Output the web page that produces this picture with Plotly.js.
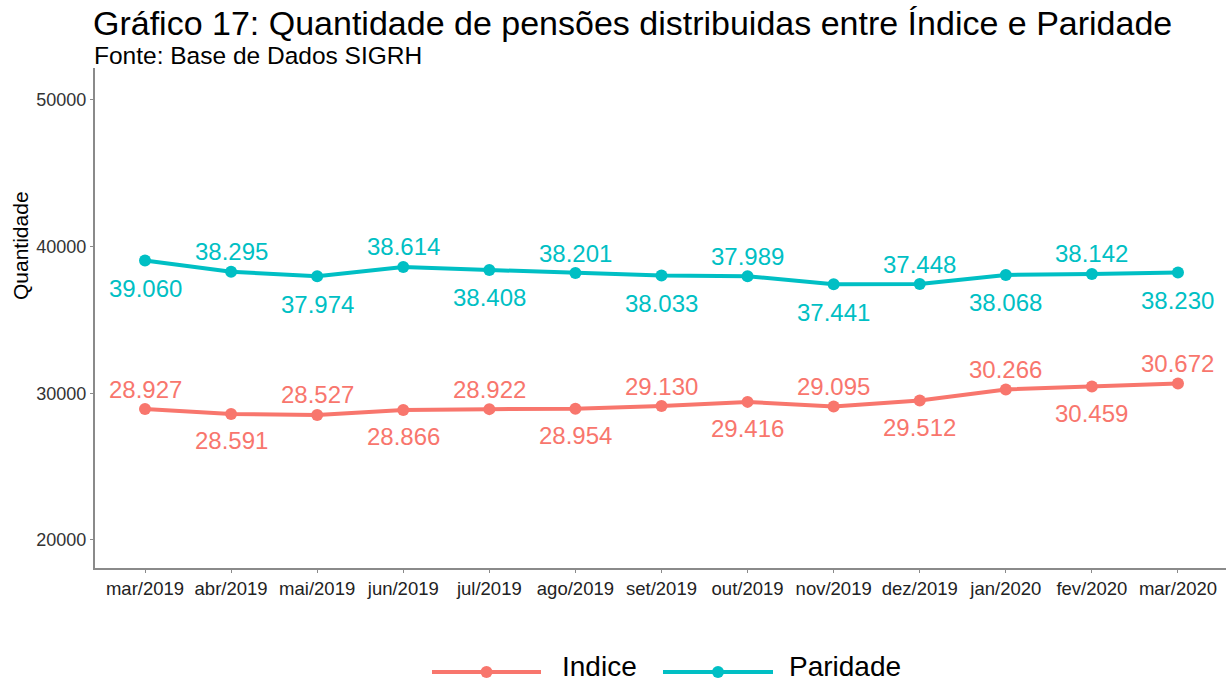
<!DOCTYPE html>
<html><head><meta charset="utf-8">
<script src="https://cdn.plot.ly/plotly-3.0.1.min.js"></script>
<style>html,body{margin:0;padding:0;background:#fff;}#chart{width:1226px;height:683px;}</style>
</head><body><div id="chart"></div>
<script>
const months = ["mar/2019","abr/2019","mai/2019","jun/2019","jul/2019","ago/2019","set/2019","out/2019","nov/2019","dez/2019","jan/2020","fev/2020","mar/2020"];
const indice = [28927,28591,28527,28866,28922,28954,29130,29416,29095,29512,30266,30459,30672];
const paridade = [39060,38295,37974,38614,38408,38201,38033,37989,37441,37448,38068,38142,38230];
const seriesNames = ["Indice","Paridade"];
const yTicks = [20000,30000,40000,50000];

const cInd = "#F8766D", cPar = "#00BFC4";
const FONT = "Liberation Sans, Arial, sans-serif";
const idx = months.map((m,i)=>i);
const fmt = v => (v/1000).toFixed(3);

const traces = [
  {x: idx, y: indice, name: seriesNames[0], mode: "lines+markers", line:{color:cInd,width:4}, marker:{color:cInd,size:12}, showlegend:false, hoverinfo:"skip"},
  {x: idx, y: paridade, name: seriesNames[1], mode: "lines+markers", line:{color:cPar,width:4}, marker:{color:cPar,size:12}, showlegend:false, hoverinfo:"skip"}
];

const annotations = [];
// data labels: Indice even above / odd below; Paridade even below / odd above
indice.forEach((v,i)=>{
  const up = i%2===0;
  annotations.push({x:i,y:v,xref:"x",yref:"y",text:fmt(v),showarrow:false,yshift: up?20:-27,
    font:{family:FONT,size:24,color:cInd},xanchor:"center",yanchor:"middle"});
});
paridade.forEach((v,i)=>{
  const up = i%2===1;
  annotations.push({x:i,y:v,xref:"x",yref:"y",text:fmt(v),showarrow:false,yshift: up?20:-28,
    font:{family:FONT,size:24,color:cPar},xanchor:"center",yanchor:"middle"});
});

// geometry helpers (pixel -> paper)
const L=95, R=0, T=68, B=115, W=1226, H=683;
const pw = W-L-R, ph = H-T-B;
const px = x => (x-L)/pw;
const py = y => (H-B-y)/ph;

// titles
annotations.push({xref:"paper",yref:"paper",x:px(92),y:py(23),xanchor:"left",yanchor:"middle",showarrow:false,borderpad:0,
  text:"Gráfico 17: Quantidade de pensões distribuidas entre Índice e Paridade",font:{family:FONT,size:34,color:"#000"}});
annotations.push({xref:"paper",yref:"paper",x:px(93),y:py(56),xanchor:"left",yanchor:"middle",showarrow:false,borderpad:0,
  text:"Fonte: Base de Dados SIGRH",font:{family:FONT,size:24.5,color:"#000"}});
annotations.push({xref:"paper",yref:"paper",x:px(20),y:py(245),xanchor:"center",yanchor:"middle",showarrow:false,textangle:-90,
  text:"Quantidade",font:{family:FONT,size:21,color:"#000"}});

// custom legend
const shapes = [];
const legendY = py(672);
const legItems = [
  {name:seriesNames[0], color:cInd, x0:432, x1:541, tx:561},
  {name:seriesNames[1], color:cPar, x0:663, x1:773, tx:788}
];
legItems.forEach(it=>{
  shapes.push({type:"line",xref:"paper",yref:"paper",x0:px(it.x0),x1:px(it.x1),y0:legendY,y1:legendY,line:{color:it.color,width:4}});
  const cx = px((it.x0+it.x1)/2);
  shapes.push({type:"circle",xref:"paper",yref:"paper",xsizemode:"pixel",ysizemode:"pixel",xanchor:cx,yanchor:legendY,
    x0:-6,x1:6,y0:-6,y1:6,fillcolor:it.color,line:{color:it.color,width:0}});
  annotations.push({xref:"paper",yref:"paper",x:px(it.tx),y:py(666),xanchor:"left",yanchor:"middle",showarrow:false,borderpad:0,
    text:it.name,font:{family:FONT,size:28,color:"#000"}});
});

const layout = {
  width:W,height:H,
  margin:{l:L,r:R,t:T,b:B},
  paper_bgcolor:"#fff",plot_bgcolor:"#fff",
  showlegend:false,
  font:{family:FONT},
  xaxis:{range:[-0.581,12.558],tickvals:idx,ticktext:months,showgrid:false,zeroline:false,
    showline:true,linecolor:"#8a8a8a",linewidth:2,ticks:"outside",ticklen:3,tickcolor:"#8a8a8a",
    tickfont:{family:FONT,size:18.5,color:"#222"}},
  yaxis:{range:[18090,52180],tickvals:yTicks,ticktext:yTicks.map(String),showgrid:false,zeroline:false,
    showline:true,linecolor:"#8a8a8a",linewidth:2,ticks:"outside",ticklen:3,tickcolor:"#8a8a8a",
    tickfont:{family:FONT,size:18,color:"#333"}},
  annotations:annotations,
  shapes:shapes
};
Plotly.newPlot("chart",traces,layout,{staticPlot:true,displayModeBar:false});
</script></body></html>
